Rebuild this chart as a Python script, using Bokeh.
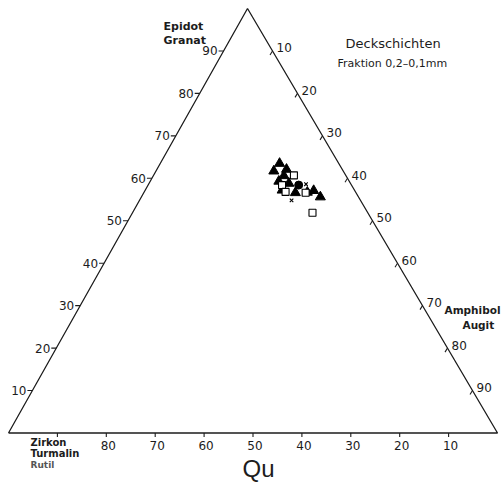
from bokeh.plotting import figure
from bokeh.models import Range1d
from bokeh.core.properties import value
from bokeh.embed import file_html
from bokeh.resources import INLINE

# ---------------- data (ternary: Epidot/Granat, Amphibol/Augit, Zirkon/Turmalin/Rutil, in %) ----------------
tri_epidot   = [63.5, 61.7, 62.1, 60.6, 59.3, 58.8, 57.2, 56.6, 56.7, 57.1, 55.6]
tri_amphibol = [24.4, 24.1, 26.5, 26.7, 26.3, 28.6, 28.0, 31.0, 33.4, 34.5, 36.6]
sq_epidot    = [60.7, 58.4, 56.8, 56.6, 51.9]
sq_amphibol  = [28.7, 27.4, 28.9, 33.1, 36.8]
x_epidot     = [58.6, 54.8]
x_amphibol   = [32.2, 31.1]
dot_epidot   = [58.4]
dot_amphibol = [30.8]

left_ticks   = [10, 20, 30, 40, 50, 60, 70, 80, 90]      # Epidot scale
right_ticks  = [10, 20, 30, 40, 50, 60, 70, 80, 90]      # Amphibol scale
bottom_ticks = [10, 20, 30, 40, 50, 60, 70, 80, 90]      # Zirkon scale
bottom_labels = ["10", "20", "30", "40", "50", "60", "70", "80", ""]

# ---------------- geometry ----------------
W, H = 501, 485
S = 489.0                      # px per unit (base length)
LEFT_PX, BASE_PX = 8.0, 432.5  # left corner position on canvas
TX, TY = 239.0 / S, 424.5 / S  # apex

def tern(a, b):
    """a = top component %, b = right component %; c = rest."""
    a = a / 100.0
    b = b / 100.0
    return a * TX + b * 1.0, a * TY

def tern_list(al, bl):
    pts = [tern(a, b) for a, b in zip(al, bl)]
    return [q[0] for q in pts], [q[1] for q in pts]

def img(ix, iy):
    """canvas pixel -> data coords (for free text placement)"""
    return (ix - LEFT_PX) / S, (BASE_PX - iy) / S

p = figure(width=W, height=H, output_backend="svg", toolbar_location=None,
           x_range=Range1d(-LEFT_PX / S, (W - LEFT_PX) / S),
           y_range=Range1d(-(H - BASE_PX) / S, BASE_PX / S),
           min_border=0)
p.axis.visible = False
p.grid.visible = False
p.outline_line_color = None
p.background_fill_color = "white"
p.border_fill_color = "white"

INK = "#1c1c1c"

# triangle outline
cx = [tern(0, 0)[0], tern(0, 100)[0], tern(100, 0)[0], tern(0, 0)[0]]
cy = [tern(0, 0)[1], tern(0, 100)[1], tern(100, 0)[1], tern(0, 0)[1]]
p.line(cx, cy, line_color=INK, line_width=1.3)

tick_len = 5.0 / S
# left edge ticks (b=0), short horizontal marks outward
lx0, ly0, lx1, ly1 = [], [], [], []
for t in left_ticks:
    x, y = tern(t, 0)
    lx0.append(x); ly0.append(y); lx1.append(x - tick_len); ly1.append(y)
p.segment(lx0, ly0, lx1, ly1, line_color=INK, line_width=1.1)
p.text(lx1, ly1, text=[str(t) for t in left_ticks], text_align="right",
       text_baseline="middle", text_font=value("DejaVu Sans"), text_font_size="12px",
       text_color=INK, x_offset=-1)

# right edge ticks (c=0)
rx0, ry0, rx1, ry1 = [], [], [], []
for t in right_ticks:
    x, y = tern(100 - t, t)
    rx0.append(x); ry0.append(y)
    rx1.append(x - tick_len * 0.5); ry1.append(y - tick_len * 0.8)
p.segment(rx0, ry0, rx1, ry1, line_color=INK, line_width=1.1)
p.text(rx0, ry0, text=[str(t) for t in right_ticks], text_align="left",
       text_baseline="middle", text_font=value("DejaVu Sans"), text_font_size="12px",
       text_color=INK, x_offset=4, y_offset=-3)

# bottom ticks (a=0), Zirkon scale
bx0, by0, bx1, by1 = [], [], [], []
for t in bottom_ticks:
    x, y = tern(0, 100 - t)
    bx0.append(x); by0.append(y); bx1.append(x); by1.append(y - tick_len * 0.8)
p.segment(bx0, by0, bx1, by1, line_color=INK, line_width=1.1)
p.text(bx0, by0, text=bottom_labels, text_align="center", text_baseline="top",
       text_font=value("DejaVu Sans"), text_font_size="12px", text_color=INK,
       x_offset=2, y_offset=8)

# data points
tx, ty = tern_list(tri_epidot, tri_amphibol)
p.scatter(tx, ty, marker="triangle", size=10, fill_color="black", line_color="black")
sx, sy = tern_list(sq_epidot, sq_amphibol)
p.scatter(sx, sy, marker="square", size=7, fill_color="white", line_color="black", line_width=1.1)
xx, xy = tern_list(x_epidot, x_amphibol)
p.scatter(xx, xy, marker="x", size=5, line_color="black", line_width=1.1)
dx, dy = tern_list(dot_epidot, dot_amphibol)
p.scatter(dx, dy, marker="circle", size=8, fill_color="black", line_color="black")

# texts
def label(ix, iy, txt, size, align="left", baseline="middle", font="DejaVu Sans",
          style="normal", color=INK):
    x, y = img(ix, iy)
    p.text([x], [y], text=[txt], text_align=align, text_baseline=baseline,
           text_font=value(font), text_font_size=size, text_font_style=style,
           text_color=color)

label(163, 26, "Epidot", "11px", style="bold")
label(163, 40, "Granat", "11px", style="bold")
label(345, 43, "Deckschichten", "13px")
label(337, 63, "Fraktion 0,2\u20130,1mm", "11px")
label(500, 309, "Amphibol", "10.5px", align="right", style="bold")
label(462, 324, "Augit", "10.5px", style="bold")
label(30, 442, "Zirkon", "10px", style="bold")
label(30, 453, "Turmalin", "10px", style="bold")
label(30, 464, "Rutil", "9px", style="bold", color="#555555")
label(242, 468, "Qu", "24px", font="Liberation Sans")

open("out.html", "w").write(file_html(p, INLINE))
